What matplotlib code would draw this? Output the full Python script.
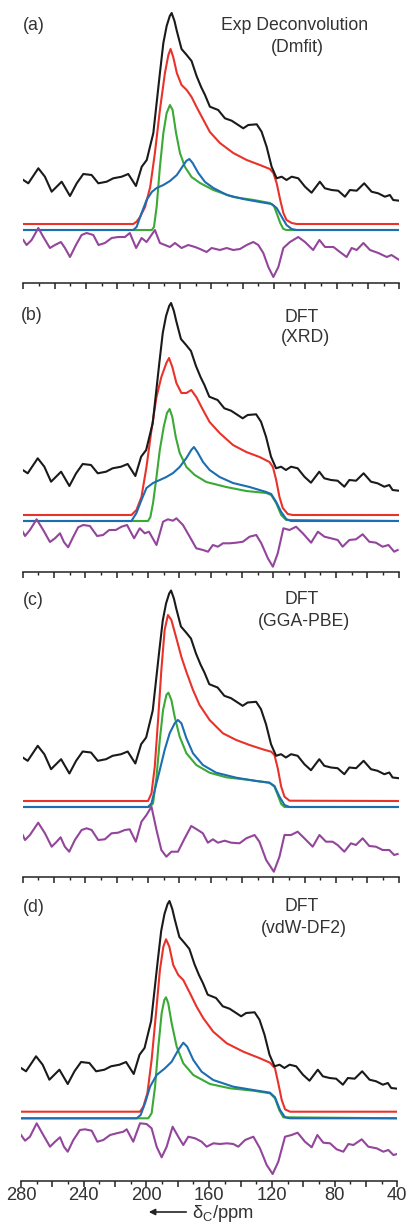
import matplotlib
matplotlib.use("Agg")
import matplotlib.pyplot as plt
from matplotlib.ticker import MultipleLocator, FuncFormatter

plt.rcParams['font.family'] = ['Liberation Sans', 'DejaVu Sans']
plt.rcParams['mathtext.fontset'] = 'custom'
plt.rcParams['mathtext.rm'] = 'Liberation Sans'
plt.rcParams['mathtext.it'] = 'Liberation Sans:italic'

# ---------------- data (ppm, height above panel axis in px units) ----------------
# experimental spectrum (same in all panels)
EXP_PPM = [280, 276.8, 270.4, 266.2, 261.9, 255.5, 250.2, 245.9, 241.7, 236.4, 232.1, 226.8,
           222.6, 217.2, 213, 208.1, 204.4, 201.2, 197, 194.9, 192.8, 190.6, 188.5, 186.5,
           185.3, 183.5, 182, 179, 175.7, 172.6, 169.4, 166.5, 164, 160.9, 155.6, 151.3, 147,
           142.8, 139.6, 136.4, 131, 127.9, 124.7, 121.5, 118.3, 115.1, 112, 108.7, 104.5,
           100.2, 96, 90.7, 87.5, 83.2, 79, 74.7, 71.5, 67.2, 62.4, 57.7, 53.5, 49.2, 46,
           43.9, 40]
EXP_H = [103, 99.7, 114.7, 106.3, 91.3, 101.3, 87, 99.7, 109, 108, 99.7, 101.3,
         104.7, 106.3, 109, 97, 116.3, 123, 150, 180, 210, 240, 257, 267,
         270, 262, 252, 234, 228, 222, 207, 196, 188, 176.3, 173, 164.7, 162.3,
         158, 154.7, 158, 158.7, 151.3, 136.3, 116.3, 104.7, 106.3, 103, 106.3, 104.7,
         96.3, 90.3, 101.3, 94.7, 93, 92.3, 86.3, 93, 92.3, 99.7, 91.3, 89.7, 86.3, 88,
         83, 82.3]

# panel (a) Exp Deconvolution (Dmfit)
A_RED_PPM = [280, 209.8, 207.7, 205.5, 202.3, 199, 196, 192.8, 189.6, 187.4, 186, 184.3, 182,
             179, 175.7, 172.6, 169.4, 165, 160.9, 154.5, 146, 137.4, 129, 122.6, 120.4,
             118.3, 116, 114, 112, 108.7, 105.5, 40]
A_RED_H = [59, 59, 61.3, 66, 76, 96, 130, 173, 210, 228, 234, 226, 210,
           198, 193, 186, 176, 163, 151, 140, 130, 123, 118, 114, 110,
           100, 83, 70, 63, 60, 59, 59]
A_GREEN_PPM = [280, 198, 196.6, 194.9, 192.8, 190.6, 188.5, 186.4, 184.7, 182.5, 180, 176.8,
               172.6, 167.2, 158.7, 146, 133, 122.6, 120, 118.3, 116, 114, 112, 40]
A_GREEN_H = [53, 53, 56, 76, 116, 150, 170, 178, 173, 150, 130, 116,
             106, 100, 93, 86, 83, 80, 77, 70, 60, 54, 53, 53]
A_BLUE_PPM = [280, 209.8, 207.7, 204.5, 201.3, 198, 194.9, 190.6, 186.4, 182, 179, 176, 174,
              171.9, 168.3, 164, 158.7, 150, 139.6, 129, 121.5, 118.3, 115, 112, 108.7,
              105.5, 40]
A_BLUE_H = [53, 53, 56, 70, 83, 91, 95, 98, 102, 108, 115, 122, 124,
            120, 110, 101, 95, 88, 84, 81, 79, 75, 66, 58, 54,
            53, 53]
A_RES_PPM = [280, 277.9, 274.7, 270.4, 267.2, 263, 259.8, 256, 253.4, 250.2, 246.4, 242.8,
             239.6, 235.3, 232, 227.9, 223.6, 219.4, 215.1, 212, 208, 204.5, 201.3, 196,
             192.8, 189.6, 186.4, 183.2, 179, 174.7, 170.4, 167.2, 163, 159.8, 154.5, 150.2,
             146, 141.7, 137.4, 133.2, 130, 126.8, 123.6, 120.4, 117.2, 114, 109.8, 104.5,
             100.2, 95, 91, 87.4, 82, 77.9, 73.6, 70.4, 67.2, 62.9, 58.7, 53.4, 48, 45, 40]
A_RES_H = [43, 38, 43, 55, 46, 35, 38, 41, 35, 26, 38, 48,
           50, 48, 38, 40, 45, 46, 46, 50, 35, 45, 41, 53,
           40, 38, 36, 40, 35, 38, 36, 34, 31, 35, 33, 35,
           33, 34, 38, 41, 38, 30, 16, 6, 16, 35, 41, 46,
           41, 33, 43, 36, 36, 31, 26, 35, 33, 40, 33, 30, 26, 28, 23]

# panel (b) DFT (XRD)
B_RED_PPM = [280, 210.6, 207.4, 204.2, 201, 197.8, 194.6, 191.5, 188.3, 186.6, 184.5, 181.9,
             178.7, 175.5, 172.4, 169.2, 164.9, 160.7, 154.3, 145.8, 137.3, 128.8, 122.5,
             120.3, 118.2, 116.1, 114, 110.8, 107.6, 40]
B_RED_H = [57, 57, 62, 75, 105, 142, 175, 195, 209, 214, 205, 189,
           179, 179, 182, 175, 162, 150, 139, 127, 120, 115, 110,
           105, 92, 75, 64, 58, 57, 57]
B_GREEN_PPM = [280, 200, 198.5, 196.8, 194.6, 192.5, 190, 187.9, 186.2, 184.5, 182.3, 179.8,
               175.5, 170.2, 162.8, 150.1, 137.3, 124.6, 121.4, 118.2, 115, 111.8, 40]
B_GREEN_H = [51, 51, 55, 69, 95, 122, 145, 159, 163, 155, 135, 119,
             105, 97, 90, 85, 81, 79, 77, 69, 57, 52, 51]
B_BLUE_PPM = [280, 210.6, 207.4, 204.2, 201, 196.8, 192.5, 188.3, 184, 179.8, 175.5, 172.4,
              170.7, 168.5, 164.9, 160.7, 154.3, 145.8, 135.2, 124.6, 121.4, 118.2, 115,
              111.8, 108.7, 40]
B_BLUE_H = [51, 51, 59, 72, 84, 89, 92, 95, 99, 105, 114, 122,
            125, 120, 110, 102, 95, 89, 85, 80, 78, 70, 60,
            53, 51, 51]
B_RES_PPM = [280, 278.5, 275.4, 271.1, 266.9, 262.6, 259.4, 256.2, 253.7, 251, 247.8, 244.6,
             241.4, 237.1, 232.5, 228.7, 224.8, 220.6, 216.9, 213.4, 208.9, 205.3, 202.1,
             199.4, 194.6, 190.4, 187.3, 184.1, 181.9, 177.7, 173.4, 169.2, 164.9, 161.7,
             158.6, 155.4, 152.2, 147.9, 143.7, 139.4, 135.2, 130.9, 127.7, 123.5, 120.3,
             117.2, 113.6, 109.7, 105.5, 101.2, 95.9, 91.6, 87.4, 83.2, 78.9, 75.8, 71.5,
             67.3, 63, 58.8, 54.5, 50.3, 46.5, 42.9, 40.7]
B_RES_H = [40.3, 36, 42, 52.7, 42, 30, 33.7, 38.7, 30, 24.7, 35, 44.7,
           47, 46, 36, 37, 42, 42, 45.3, 47, 33.7, 43.7, 38.7,
           40.3, 27, 50.3, 52.7, 51.3, 53.7, 47, 35.3, 23.7, 22, 20.3,
           27, 25.3, 28.7, 28.7, 29.3, 30.3, 35.3, 37, 28.7, 13.7, 5.3,
           18.7, 43.7, 42, 45.3, 38.7, 29.3, 40.3, 35.3, 33.7, 32, 25.3, 32,
           32.7, 37.7, 30.3, 29.3, 25.3, 27, 20.3, 22]

# panel (c) DFT (GGA-PBE)
C_RED_PPM = [280, 200, 197.8, 195.7, 193.6, 191.5, 189.4, 187.3, 185.1, 181.9, 178.7, 175.5,
             171.3, 167.1, 160.7, 152.2, 143.7, 135.2, 126.8, 121.4, 119.3, 117.2, 115,
             112.9, 109.7, 40]
C_RED_H = [76, 76, 83.7, 110.3, 157, 207, 247, 262, 257, 238.7, 220, 205,
           187, 172, 157, 143.7, 137, 132, 127.7, 125.3, 122, 108.7, 90.3,
           80.3, 76.3, 76]
C_GREEN_PPM = [280, 198.9, 196.8, 194.6, 192.5, 190.4, 188.3, 187, 185.1, 183, 179.8, 175.5,
               169.2, 160.7, 150.1, 135.2, 122.5, 119.3, 117.2, 115, 112.9, 40]
C_GREEN_H = [70, 70, 73.7, 100, 137, 167, 182, 184.3, 177, 160.3, 140.3, 123.7,
             112, 104.3, 99.7, 97, 94.3, 90.3, 82, 73, 70, 70]
C_BLUE_PPM = [280, 200, 197.8, 195.7, 192.5, 189.4, 186.2, 183, 180.9, 178.7, 175.5, 171.3,
              165, 156.5, 143.7, 131, 122.5, 119.3, 116.1, 112.9, 109.7, 40]
C_BLUE_H = [70, 70, 73.7, 87, 107, 127, 143.7, 153.7, 157, 153.7, 138.7, 123.7,
            112, 104.3, 99.3, 96, 94.3, 91, 80.3, 72, 70, 70]
C_RES_PPM = [280, 278.5, 275.4, 270.1, 265.8, 261.5, 258.3, 255.8, 253.1, 250.3, 246.7, 242.4,
             239.2, 236, 231.8, 227.6, 223.3, 219.1, 214.8, 211.7, 207.8, 204.2, 201, 197.8,
             194.6, 191.5, 188.3, 185.1, 180.9, 176.6, 172.4, 168.2, 165, 161.8, 158.6,
             155.4, 151.1, 146.9, 141.6, 137.3, 132, 128.9, 124.6, 119.7, 116.1, 112.9,
             108.7, 104.5, 100.2, 94.9, 90.6, 86.4, 82.2, 79, 74.7, 70.5, 67.3, 63, 58.8,
             54.5, 50.3, 46, 42.9, 40.7]
C_RES_H = [42, 37, 42, 54.3, 43.7, 30.3, 35.3, 39.7, 30.3, 25.3, 37, 47,
           48.7, 47, 37, 37.7, 43.7, 44.3, 47, 47.7, 35.3, 55.3, 62, 70.3,
           47, 27, 20.3, 25.3, 25.3, 38.7, 51, 47, 43.7, 34.3, 37.7,
           34.3, 36.3, 34.3, 33.7, 38.7, 42, 35.3, 17, 5.3, 20.3, 42,
           42, 45.3, 38.7, 30.3, 42, 35.3, 35.3, 32, 25.3, 33.7, 32, 38.7, 31,
           30.3, 27, 27, 22, 23]

# panel (d) DFT (vdW-DF2)
D_RED_PPM = [280, 204.1, 202, 199.4, 196.7, 193.9, 191.4, 189.2, 187.5, 185.4, 182.9, 179.7,
             176.5, 172.2, 168, 163.7, 157.4, 148.8, 138.2, 127.6, 121.2, 118, 115.9, 113.7,
             111.6, 108.4, 40]
D_RED_H = [69.3, 69.3, 74.3, 87.7, 121, 167.7, 211, 234.3, 241.7, 234.3, 216, 206,
           201, 187.7, 174.3, 162.7, 149.3, 137.7, 129.3, 122.7, 118.3, 112.7, 97.7, 81,
           71.7, 69.3, 69.3]
D_GREEN_PPM = [280, 198.8, 196.7, 194.5, 192.4, 190.3, 188.6, 187.5, 186.1, 183.9, 180.7,
               176.5, 170.1, 159.5, 146.7, 131.9, 121.2, 118, 115.3, 112.7, 40]
D_GREEN_H = [62.7, 62.7, 67.7, 94.3, 134.3, 167.7, 181, 183.7, 177.7, 157.7, 134.3,
             117.7, 106, 97, 92.7, 90.3, 87.7, 82.7, 71, 63.7, 62.7]
D_BLUE_PPM = [280, 206.2, 203.7, 200.9, 197.7, 193.5, 188.2, 183.9, 179.7, 176.5, 174,
              170.1, 164.8, 157.4, 144.6, 131.9, 121.2, 118, 114.8, 111.6, 108.4, 40]
D_BLUE_H = [62.7, 62.7, 66, 77.7, 94.3, 106, 112.7, 119.3, 131, 138.3, 134.3,
            121, 109.3, 101, 94.3, 91, 88.3, 83.7, 71, 63.7, 62.7, 62.7]
D_RES_PPM = [280, 277.4, 274.3, 270, 265.8, 261.5, 258.3, 255.1, 252.6, 250.2, 246.6, 242.4,
             239.2, 234.9, 231.3, 227.5, 223.2, 219, 214.7, 212.6, 208.4, 204.1, 199.9,
             196.7, 193.5, 190.3, 187.1, 183.3, 179.7, 176.5, 173.3, 169, 164.8, 161.6,
             157.3, 153.1, 148.8, 144.6, 141.4, 137.1, 131.8, 127.6, 123.3, 119.5, 115.9,
             111.6, 107.4, 103.6, 98.9, 94.6, 91, 87.2, 82.9, 78.7, 74.4, 71.2, 68, 62.7,
             58.5, 53.2, 48.9, 45.7, 42.5, 40]
D_RES_H = [46, 40.3, 44.3, 57.7, 46, 34.3, 39.3, 43.7, 34.3, 29.3, 41, 51,
           51.7, 50.3, 39.3, 41, 46, 47.7, 49.3, 51.7, 39.3, 57.7, 57,
           52.7, 34.3, 23.7, 34.3, 54.3, 44.3, 36, 44.3, 42.7, 39.3, 34.3,
           37.7, 37, 37.7, 37, 34.3, 41, 44.3, 32.7, 16, 7, 19.3,
           44.3, 46, 48.3, 39.3, 33.7, 46, 38.3, 37.7, 31.7, 29.3, 37, 36, 41.7,
           34.3, 32.7, 29.3, 31, 26, 27]

PANEL_LABELS = ['(a)', '(b)', '(c)', '(d)']
TITLES_1 = ['Exp Deconvolution', 'DFT', 'DFT', 'DFT']
TITLES_2 = ['(Dmfit)', '(XRD)', '(GGA-PBE)', '(vdW-DF2)']
XTICK_VALUES = [280, 240, 200, 160, 120, 80, 40]

# ---------------- layout (pixels) ----------------
W, H = 412, 1224
panel_left = [23.3, 22.7, 22.7, 21.0]
panel_right = [399.3, 398.7, 398.7, 397.3]
panel_bottom = [283, 572, 877, 1181]   # spine y (from top)
panel_top = [0, 288, 578, 882]
exp_offset = [0, -1, 16.5, 10]
label_xy = [(23, 29.5), (21, 320), (23, 605), (23, 911.5)]
title1_xy = [(295, 29.5), (302, 321.5), (302, 603.5), (302, 911)]
title2_xy = [(297, 51.5), (305, 342), (304, 625.5), (304, 933)]

C_BLACK = '#1a1a1a'
C_RED = '#e8322a'
C_GREEN = '#3aa935'
C_BLUE = '#1d6db2'
C_PURPLE = '#93459b'
C_TEXT = '#333333'
LW = 1.5
FS_TEXT = 12.7
FS_TICK = 13.2

fig = plt.figure(figsize=(W / 100, H / 100), dpi=100)

series = [
    (A_RED_PPM, A_RED_H, A_GREEN_PPM, A_GREEN_H, A_BLUE_PPM, A_BLUE_H, A_RES_PPM, A_RES_H),
    (B_RED_PPM, B_RED_H, B_GREEN_PPM, B_GREEN_H, B_BLUE_PPM, B_BLUE_H, B_RES_PPM, B_RES_H),
    (C_RED_PPM, C_RED_H, C_GREEN_PPM, C_GREEN_H, C_BLUE_PPM, C_BLUE_H, C_RES_PPM, C_RES_H),
    (D_RED_PPM, D_RED_H, D_GREEN_PPM, D_GREEN_H, D_BLUE_PPM, D_BLUE_H, D_RES_PPM, D_RES_H),
]

for i in range(4):
    l, r = panel_left[i], panel_right[i]
    b, t = panel_bottom[i], panel_top[i]
    ax = fig.add_axes([l / W, 1 - b / H, (r - l) / W, (b - t) / H])
    ax.set_xlim(280, 40)
    ax.set_ylim(0, b - t)
    rp, rh, gp, gh, bp, bh, sp, sh = series[i]
    ax.plot(rp, rh, color=C_RED, lw=LW, solid_joinstyle='round')
    ax.plot(gp, gh, color=C_GREEN, lw=LW, solid_joinstyle='round')
    ax.plot(bp, bh, color=C_BLUE, lw=LW, solid_joinstyle='round')
    ax.plot(sp, sh, color=C_PURPLE, lw=LW, solid_joinstyle='round')
    ax.plot(EXP_PPM, [v + exp_offset[i] for v in EXP_H], color=C_BLACK, lw=LW,
            solid_joinstyle='round')
    for s in ('left', 'right', 'top'):
        ax.spines[s].set_visible(False)
    ax.spines['bottom'].set_linewidth(1.1)
    ax.spines['bottom'].set_color('#222222')
    ax.set_yticks([])
    ax.xaxis.set_major_locator(MultipleLocator(20))
    ax.xaxis.set_minor_locator(MultipleLocator(10))
    ax.tick_params(axis='x', which='major', direction='out', length=4.5, width=1.1,
                   color='#222222', labelsize=FS_TICK, labelcolor=C_TEXT, pad=0)
    ax.tick_params(axis='x', which='minor', direction='out', length=2.5, width=1.0,
                   color='#222222')
    if i == 3:
        ax.xaxis.set_major_formatter(FuncFormatter(
            lambda v, p: ('%d' % v) if int(round(v)) in XTICK_VALUES else ''))
    else:
        ax.tick_params(axis='x', labelbottom=False)
    ax.patch.set_alpha(0)

    fig.text(label_xy[i][0] / W, 1 - label_xy[i][1] / H, PANEL_LABELS[i],
             ha='left', va='baseline', fontsize=FS_TEXT, color=C_TEXT)
    fig.text(title1_xy[i][0] / W, 1 - title1_xy[i][1] / H, TITLES_1[i],
             ha='center', va='baseline', fontsize=FS_TEXT, color=C_TEXT)
    fig.text(title2_xy[i][0] / W, 1 - title2_xy[i][1] / H, TITLES_2[i],
             ha='center', va='baseline', fontsize=FS_TEXT, color=C_TEXT)

# x label with arrow
fig.text(192 / W, 1 - 1218.5 / H, r'$\mathrm{\delta}_\mathrm{C}$/ppm', ha='left',
         va='baseline', fontsize=FS_TICK, color=C_TEXT)
fig.patches.append(matplotlib.patches.FancyArrowPatch(
    (189 / W, 1 - 1212 / H), (146 / W, 1 - 1212 / H), transform=fig.transFigure,
    arrowstyle='-|>', mutation_scale=9, lw=1.2, color='#222222'))

fig.savefig('out.png', dpi=100)
